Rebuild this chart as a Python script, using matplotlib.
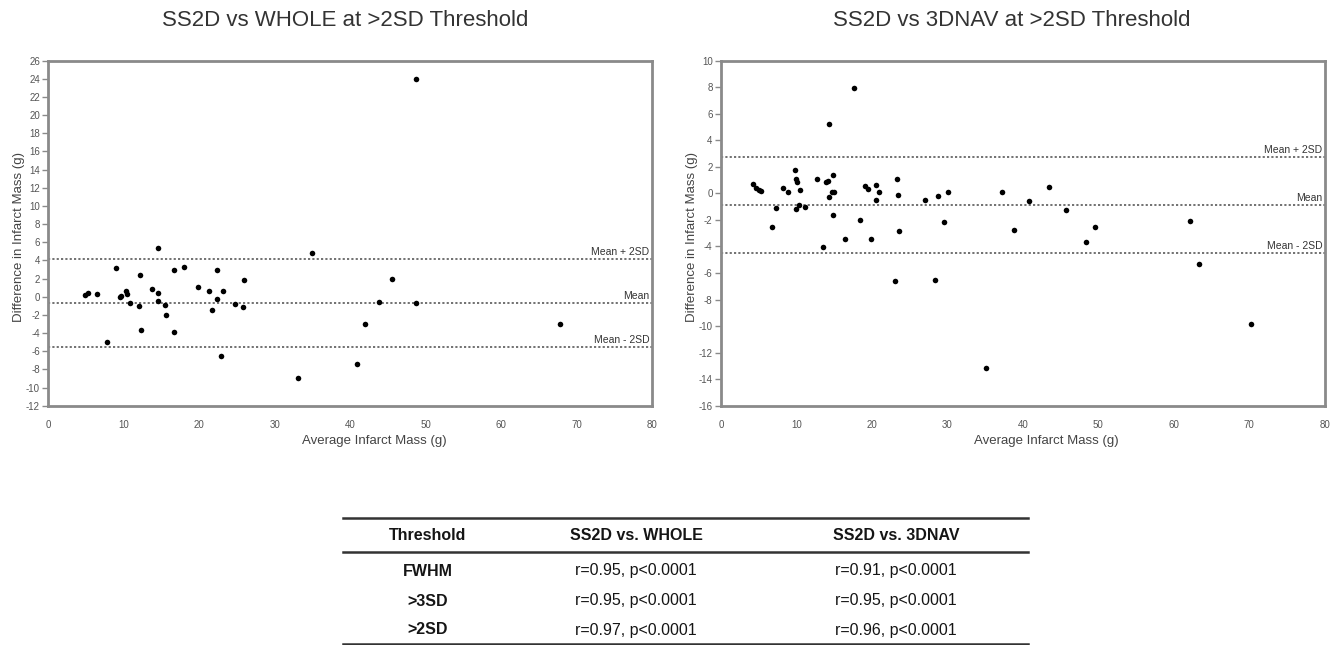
import matplotlib
matplotlib.use("Agg")
import matplotlib.pyplot as plt
from matplotlib.lines import Line2D

plt.rcParams['font.family'] = ['Liberation Sans', 'DejaVu Sans']
plt.rcParams['axes.unicode_minus'] = False

# ---- data: SS2D vs WHOLE ----
whole_x = [4.8, 5.3, 6.5, 7.8, 9.0, 9.5, 9.7, 10.3, 10.4, 10.8, 12.0, 12.1, 12.3,
           13.7, 14.6, 14.6, 14.6, 15.5, 15.6, 16.6, 16.6, 18.0, 19.9, 21.3, 21.7,
           22.3, 22.4, 22.9, 23.2, 24.7, 25.8, 25.9, 33.1, 35.0, 48.7, 45.6, 43.9,
           48.7, 42.0, 67.8, 40.9]
whole_y = [0.15, 0.37, 0.26, -5.0, 3.2, -0.07, 0.07, 0.59, 0.26, -0.66, -1.06, 2.36,
           -3.63, 0.88, 5.4, 0.4, -0.5, -0.95, -2.05, 3.0, -3.9, 3.24, 1.04, 0.59,
           -1.5, 2.98, -0.29, -6.5, 0.59, -0.84, -1.17, 1.8, -9.0, 4.85, 23.94, 1.92,
           -0.58, -0.65, -3.0, -3.04, -7.4]
whole_lines = [4.2, -0.65, -5.5]

# ---- data: SS2D vs 3DNAV ----
nav_x = [4.2, 4.7, 5.0, 5.3, 6.8, 7.3, 8.2, 8.9, 9.8, 9.9, 10.1, 10.0, 10.3, 10.5,
         11.1, 12.7, 13.5, 13.9, 14.2, 14.3, 14.3, 14.9, 14.7, 15.0, 14.9, 16.4,
         17.6, 18.4, 19.1, 19.5, 19.9, 20.6, 20.9, 20.6, 23.0, 23.3, 23.5, 23.6,
         27.0, 28.4, 28.7, 29.5, 30.1, 35.1, 37.2, 38.8, 40.8, 43.5, 45.7, 49.6,
         48.4, 62.2, 63.3, 70.3]
nav_y = [0.70, 0.38, 0.25, 0.15, -2.54, -1.1, 0.38, 0.1, 1.76, 1.08, 0.83, -1.2,
         -0.88, 0.25, -1.06, 1.06, -4.02, 0.88, 0.95, 5.23, -0.3, 1.38, 0.13, 0.13,
         -1.63, -3.47, 7.91, -2.0, 0.58, 0.35, -3.44, 0.65, 0.13, -0.5, -6.58, 1.08,
         -0.13, -2.81, -0.5, -6.5, -0.18, -2.14, 0.08, -13.14, 0.13, -2.76, -0.6,
         0.45, -1.26, -2.54, -3.69, -2.09, -5.3, -9.85]
nav_lines = [2.71, -0.88, -4.47]

line_labels = ["Mean + 2SD", "Mean", "Mean - 2SD"]
titles = ["SS2D vs WHOLE at >2SD Threshold", "SS2D vs 3DNAV at >2SD Threshold"]
xlabel = "Average Infarct Mass (g)"
ylabel = "Difference in Infarct Mass (g)"

# ---- table ----
table_header = ["Threshold", "SS2D vs. WHOLE", "SS2D vs. 3DNAV"]
table_rows = ["FWHM", ">3SD", ">2SD"]
table_whole = ["r=0.95, p<0.0001", "r=0.95, p<0.0001", "r=0.97, p<0.0001"]
table_nav = ["r=0.91, p<0.0001", "r=0.95, p<0.0001", "r=0.96, p<0.0001"]

W, H = 1343, 645
fig = plt.figure(figsize=(W / 100, H / 100), dpi=100)


def fx(px):
    return px / W


def fy(py):
    return 1 - py / H


frame_col = '#8a8a8a'
tick_col = '#555555'
AX_W = 603.5


def make_panel(left_px, xs, ys, lines, ylim, yticks, title, title_x):
    ax = fig.add_axes([fx(left_px), fy(405.7), AX_W / W, 345 / H])
    ax.set_xlim(0, 80)
    ax.set_ylim(*ylim)
    for s in ax.spines.values():
        s.set_color(frame_col)
        s.set_linewidth(2.0)
    ax.set_xticks(range(0, 81, 10))
    ax.set_yticks(yticks)
    ax.tick_params(axis='x', length=0, pad=10, labelsize=7, labelcolor=tick_col)
    ax.tick_params(axis='y', length=4, width=1, color=frame_col, pad=2,
                   labelsize=7, labelcolor=tick_col)
    for val, lab in zip(lines, line_labels):
        ax.axhline(val, color='#666666', linestyle=(0, (1.2, 1.2)), linewidth=1.3)
        ax.text(79.7, val + (ylim[1] - ylim[0]) * 0.006, lab, ha='right', va='bottom',
                fontsize=7.5, color='#333333')
    ax.scatter(xs, ys, s=16, color='black', zorder=3, linewidths=0)
    ax.set_xlabel(xlabel, fontsize=9.5, color='#444444')
    ax.xaxis.set_label_coords((AX_W / 2 + 24) / AX_W, -0.085)
    ax.set_ylabel(ylabel, fontsize=9.5, color='#444444')
    ax.yaxis.set_label_coords(-23 / AX_W, 0.49)
    fig.text(fx(title_x), fy(21), title, ha='center', va='center', fontsize=16,
             color='#333333')
    return ax


make_panel(48.3, whole_x, whole_y, whole_lines, (-12, 26), range(-12, 27, 2),
           titles[0], 345)
make_panel(721, nav_x, nav_y, nav_lines, (-16, 10), range(-16, 11, 2),
           titles[1], 1012)

# table drawing in figure coords
tl, tr = 343, 1028
for y, lw in [(518, 1.8), (551.5, 1.8), (644, 1.8)]:
    fig.add_artist(Line2D([fx(tl), fx(tr)], [fy(y), fy(y)], color='#333333',
                          linewidth=lw))
col_x = [428, 636, 896]
fp = dict(fontsize=11.5, color='#151515', ha='center', va='center')
for cx, h in zip(col_x, table_header):
    fig.text(fx(cx), fy(536), h, fontweight='bold', **fp)
row_y = [571, 601, 630]
for ry, r, a, b in zip(row_y, table_rows, table_whole, table_nav):
    fig.text(fx(col_x[0]), fy(ry), r, fontweight='bold', **fp)
    fig.text(fx(col_x[1]), fy(ry), a, **fp)
    fig.text(fx(col_x[2]), fy(ry), b, **fp)

fig.savefig('out.png', dpi=100)
